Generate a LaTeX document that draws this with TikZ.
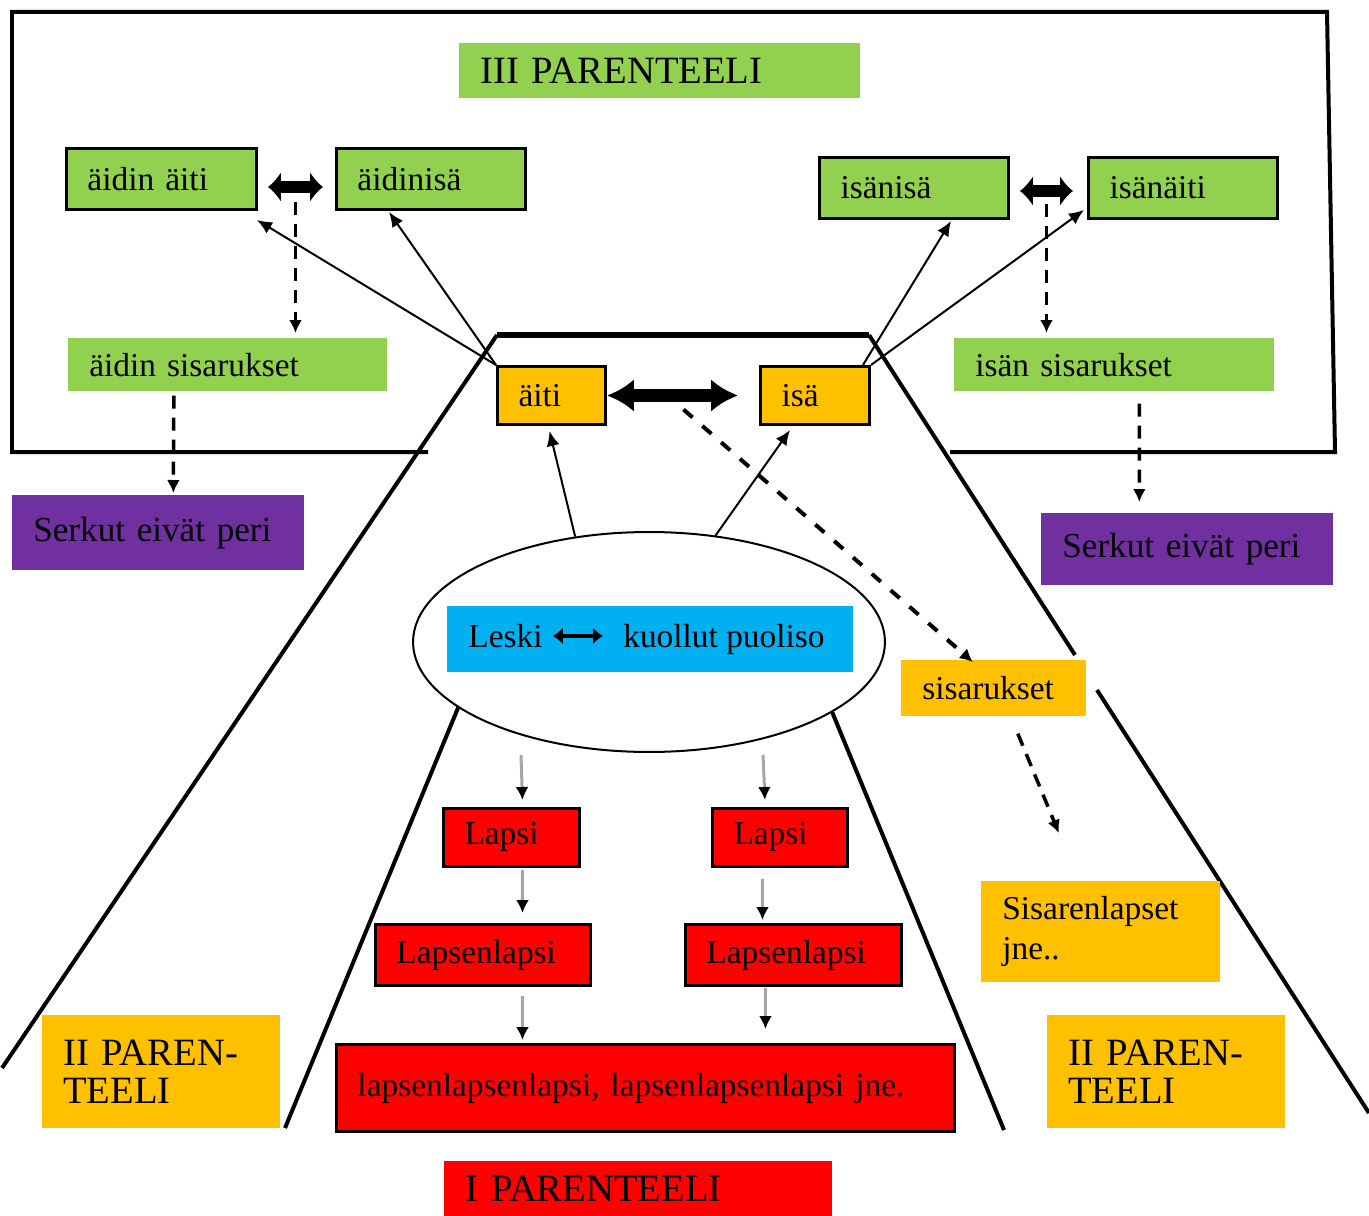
\documentclass[tikz,border=0pt]{standalone}
\usepackage{fontspec}
\setmainfont{Liberation Serif}
\usetikzlibrary{arrows.meta,shapes.geometric}
\definecolor{vihrea}{HTML}{92D050}
\definecolor{oranssi}{HTML}{FFC000}
\definecolor{violetti}{HTML}{7030A0}
\definecolor{syaani}{HTML}{00B0F0}
\definecolor{punainen}{HTML}{FF0000}
\definecolor{harmaa}{HTML}{A6A6A6}
\newcommand{\boxfont}{\fontsize{19}{22.7}\selectfont}
\newcommand{\titlefont}{\fontsize{22}{21.5}\selectfont}
\begin{document}
\begin{tikzpicture}[x=0.02cm,y=-0.02cm,
    pbox/.style={anchor=north west,inner xsep=0.42cm,inner ysep=0pt,align=left,font=\boxfont},
    reuna/.style={draw=black,line width=0.06cm},
    kehys/.style={line width=0.08cm},
    ohut/.style={line width=0.04cm,-{Latex[length=0.3cm,width=0.26cm]}},
    katko/.style={line width=0.07cm,dash pattern=on 0.26cm off 0.18cm,-{Latex[length=0.26cm,width=0.26cm]}},
    harmaa nuoli/.style={draw=harmaa,line width=0.06cm,-{Latex[length=0.26cm,width=0.26cm,black]}},
    paksu/.style={line width=0.24cm,>={Latex[length=0.26cm,width=0.62cm]},<->}]
    \useasboundingbox (0,0) rectangle (1369,1216);
    \node[draw,ellipse,line width=0.04cm,minimum width=9.44cm,minimum height=4.4cm,inner sep=0pt] (ell) at (649,642) {};
    \draw[kehys] (428,452) -- (12,452) -- (12,12) -- (1327,12) -- (1335,452) -- (950,452);
    \draw[kehys] (2,1068) -- (497,335);
    \draw[line width=0.12cm] (497,335) -- (869,335);
    \draw[kehys] (869,335) -- (1075,655);
    \draw[kehys] (1097,690) -- (1369,1113);
    \draw[kehys] (ell.199) -- (285,1128);
    \draw[kehys] (ell.339) -- (1004,1130);
    \node[pbox,fill=vihrea,font=\titlefont,minimum width=8.02cm,minimum height=1.1cm,text width=7.18cm] (parIII) at (459,43) {III PARENTEELI};
    \node[pbox,fill=vihrea,reuna,minimum width=3.8cm,minimum height=1.22cm,text width=2.96cm] (aidinaiti) at (65,147) {äidin äiti};
    \node[pbox,fill=vihrea,reuna,minimum width=3.78cm,minimum height=1.22cm,text width=2.94cm] (aidinisa) at (335,147) {äidinisä};
    \node[pbox,fill=vihrea,reuna,minimum width=3.78cm,minimum height=1.22cm,text width=2.94cm] (isanisa) at (818,156) {isänisä};
    \node[pbox,fill=vihrea,reuna,minimum width=3.78cm,minimum height=1.22cm,text width=2.94cm] (isanaiti) at (1087,156) {isänäiti};
    \node[pbox,fill=vihrea,minimum width=6.38cm,minimum height=1.06cm,text width=5.54cm] (aidinsis) at (68,338) {äidin sisarukset};
    \node[pbox,fill=vihrea,minimum width=6.4cm,minimum height=1.06cm,text width=5.56cm] (isansis) at (954,338) {isän sisarukset};
    \node[pbox,fill=oranssi,reuna,minimum width=2.16cm,minimum height=1.16cm,text width=1.32cm] (aiti) at (496,365) {äiti};
    \node[pbox,fill=oranssi,reuna,minimum width=2.18cm,minimum height=1.16cm,text width=1.34cm] (isa) at (759,365) {isä};
    \node[pbox,fill=violetti,font=\fontsize{20}{24}\selectfont,minimum width=5.84cm,minimum height=1.5cm,text width=5cm] (serkutA) at (12,495) {Serkut eivät peri};
    \node[pbox,fill=violetti,font=\fontsize{20}{24}\selectfont,minimum width=5.84cm,minimum height=1.44cm,text width=5cm] (serkutB) at (1041,513) {Serkut eivät peri};
    \node[pbox,fill=syaani,minimum width=8.12cm,minimum height=1.32cm,text width=7.28cm] (puolisot) at (447,606) {};
    \node[anchor=base west,inner xsep=0.2cm,inner ysep=0pt,font=\boxfont] (leski) at ([shift={(11,8)}]puolisot.west) {Leski};
    \node[anchor=base west,inner xsep=0.2cm,inner ysep=0pt,font=\boxfont] (kuollut) at ([shift={(166,8)}]puolisot.west) {kuollut puoliso};
    \node[pbox,fill=oranssi,minimum width=3.7cm,minimum height=1.12cm,text width=2.86cm] (sisarukset) at (901,660) {sisarukset};
    \node[pbox,fill=punainen,reuna,minimum width=2.72cm,minimum height=1.16cm,text width=1.88cm] (lapsiA) at (442,807) {Lapsi};
    \node[pbox,fill=punainen,reuna,minimum width=2.7cm,minimum height=1.16cm,text width=1.86cm] (lapsiB) at (711,807) {Lapsi};
    \node[pbox,fill=punainen,reuna,minimum width=4.3cm,minimum height=1.22cm,text width=3.46cm] (lapsenlapsiA) at (374,923) {Lapsenlapsi};
    \node[pbox,fill=punainen,reuna,minimum width=4.32cm,minimum height=1.22cm,text width=3.48cm] (lapsenlapsiB) at (684,923) {Lapsenlapsi};
    \node[pbox,fill=punainen,reuna,minimum width=12.36cm,minimum height=1.74cm,text width=11.52cm] (jalkelaiset) at (335,1043) {lapsenlapsenlapsi, lapsenlapsenlapsi jne.};
    \node[pbox,fill=punainen,font=\titlefont,minimum width=7.76cm,minimum height=1.1cm,text width=6.92cm] (parI) at (444,1161) {I PARENTEELI};
    \node[pbox,fill=oranssi,minimum width=4.78cm,minimum height=2.02cm,text width=3.94cm] (sisarenlapset) at (981,881) {Sisarenlapset\\jne..};
    \node[pbox,fill=oranssi,font=\titlefont,minimum width=4.76cm,minimum height=2.26cm,text width=3.92cm] (parIIa) at (42,1015) {II PAREN-\\TEELI};
    \node[pbox,fill=oranssi,font=\titlefont,minimum width=4.76cm,minimum height=2.26cm,text width=3.92cm] (parIIb) at (1047,1015) {II PAREN-\\TEELI};
    \draw[paksu] ([shift={(10,8)}]aidinaiti.east) -- coordinate (aparit) ([shift={(-12,8)}]aidinisa.west);
    \draw[paksu] ([shift={(10,3)}]isanisa.east) -- coordinate (iparit) ([shift={(-14,3)}]isanaiti.west);
    \draw[paksu,>={Latex[length=0.54cm,width=0.66cm]},line width=0.26cm] (aiti.east) -- coordinate (vanhemmat) ([shift={(-21,0)}]isa.west);
    \draw[katko,shorten >=0.1cm] ([shift={(0,15)}]aparit) -- (aparit |- aidinsis.north);
    \draw[katko,shorten >=0.1cm] ([shift={(0,13)}]iparit) -- (iparit |- isansis.north);
    \draw[katko,line width=0.08cm,dash pattern=on 0.24cm off 0.26cm] ([shift={(11,14)}]vanhemmat) -- ([shift={(-21,2)}]sisarukset.north);
    \draw[katko] ([shift={(24,17)}]sisarukset.south) -- ([shift={(-42,-48)}]sisarenlapset.north);
    \draw[katko] ([shift={(-54,4)}]aidinsis.south) -- ([shift={(15,-2)}]serkutA.north);
    \draw[katko] ([shift={(25,12)}]isansis.south) -- ([shift={(-48,-11)}]serkutB.north);
    \draw[ohut] (aiti.north west) -- ([shift={(-1,9)}]aidinaiti.south east);
    \draw[ohut] (aiti.north west) -- ([shift={(54,1)}]aidinisa.south west);
    \draw[ohut] ([shift={(-8,0)}]isa.north east) -- ([shift={(37,1)}]isanisa.south);
    \draw[ohut] (isa.north east) -- ([shift={(-3,-10)}]isanaiti.south west);
    \draw[ohut] (ell.125) -- ([shift={(-2,5)}]aiti.south);
    \draw[ohut] (ell.58) -- ([shift={(-25,4)}]isa.south);
    \draw[line width=0.08cm,<->,>={Latex[length=0.2cm,width=0.34cm]},shorten >=0.2cm] (leski.east) -- (leski.east -| kuollut.west);
    \draw[harmaa nuoli] ([shift={(-128,2)}]ell.south) -- ([shift={(11,-7)}]lapsiA.north);
    \draw[harmaa nuoli] ([shift={(114,2)}]ell.south) -- ([shift={(-15,-7)}]lapsiB.north);
    \draw[harmaa nuoli] ([shift={(11,2)}]lapsiA.south) -- ([shift={(39.5,-10)}]lapsenlapsiA.north);
    \draw[harmaa nuoli] ([shift={(39.5,9)}]lapsenlapsiA.south) -- ([shift={(-123,-3)}]jalkelaiset.north);
    \draw[harmaa nuoli] ([shift={(-17.5,11)}]lapsiB.south) -- ([shift={(-31,-3)}]lapsenlapsiB.north);
    \draw[harmaa nuoli] ([shift={(-28,1)}]lapsenlapsiB.south) -- ([shift={(120,-14)}]jalkelaiset.north);
\end{tikzpicture}
\end{document}
